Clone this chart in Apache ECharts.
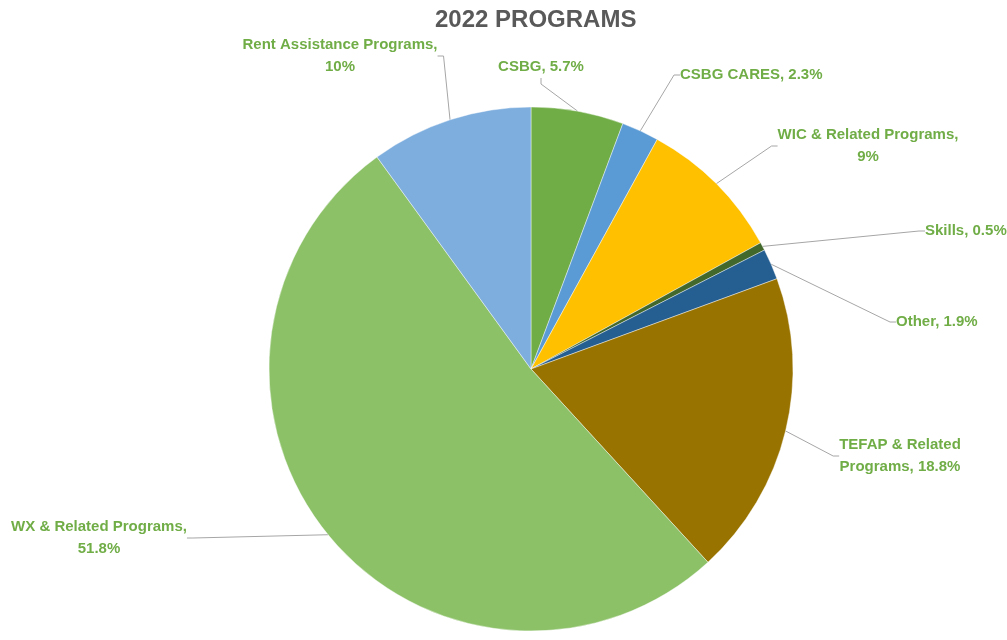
<!DOCTYPE html>
<html>
<head>
<meta charset="utf-8">
<title>2022 PROGRAMS</title>
<script src="https://cdn.jsdelivr.net/npm/echarts@6/dist/echarts.min.js"></script>
<style>
    html, body { margin: 0; padding: 0; background: #fff; }
    #chart { width: 1007px; height: 640px; }
</style>
</head>
<body>
<div id="chart"></div>
<script>
// programs, clockwise from 12 o'clock
var programs = ['CSBG', 'CSBG CARES', 'WIC & Related Programs', 'Skills', 'Other',
    'TEFAP & Related Programs', 'WX & Related Programs', 'Rent Assistance Programs'];
var shares = [5.7, 2.3, 9, 0.5, 1.9, 18.8, 51.8, 10];
var sliceColors = ['#70AD47', '#5B9BD5', '#FFC000', '#43682B', '#255E91', '#997300', '#8CC168', '#7EAEDE'];

// where each label sits (Excel placed them by hand)
var labelSpots = {
    'CSBG': {x: 541, y: 67, align: 'center'},
    'CSBG CARES': {x: 680, y: 75, align: 'left'},
    'WIC & Related Programs': {x: 868, y: 146, align: 'center'},
    'Skills': {x: 925, y: 231, align: 'left'},
    'Other': {x: 896, y: 322, align: 'left'},
    'TEFAP & Related Programs': {x: 900, y: 456, align: 'center'},
    'WX & Related Programs': {x: 99, y: 538, align: 'center'},
    'Rent Assistance Programs': {x: 340, y: 56, align: 'center'}
};
var wrapped = {
    'WIC & Related Programs': 'WIC & Related Programs,\n',
    'TEFAP & Related Programs': 'TEFAP & Related\nPrograms, ',
    'WX & Related Programs': 'WX & Related Programs,\n',
    'Rent Assistance Programs': 'Rent Assistance Programs,\n'
};

var myChart = echarts.init(document.getElementById('chart'));

var option = {
    animation: false,
    title: {
        text: '2022 PROGRAMS',
        left: 430,
        top: 3,
        textStyle: {
            fontFamily: 'Liberation Sans, Arial, sans-serif',
            fontSize: 24,
            fontWeight: 'bold',
            color: '#595959'
        }
    },
    series: [{
        type: 'pie',
        center: [531, 369],
        radius: 262,
        startAngle: 90,
        clockwise: true,
        avoidLabelOverlap: false,
        emphasis: {disabled: true},
        itemStyle: {borderColor: 'rgba(255,255,255,0.7)', borderWidth: 0.6},
        label: {
            show: true,
            position: 'outside',
            fontFamily: 'Liberation Sans, Arial, sans-serif',
            fontSize: 15,
            fontWeight: 'bold',
            color: '#70AD47',
            lineHeight: 22,
            formatter: function (p) {
                var head = wrapped[p.name] || (p.name + ', ');
                return head + p.percent + '%';
            }
        },
        labelLine: {
            show: true,
            length: 10,
            length2: 6,
            smooth: false,
            lineStyle: {color: '#A6A6A6', width: 1}
        },
        labelLayout: function (p) {
            var spot = labelSpots[programs[p.dataIndex]];
            return {
                x: spot.x,
                y: spot.y,
                align: spot.align,
                verticalAlign: 'middle'
            };
        },
        data: programs.map(function (name, i) {
            return {name: name, value: shares[i], itemStyle: {color: sliceColors[i]}};
        })
    }]
};

myChart.setOption(option);
</script>
</body>
</html>
